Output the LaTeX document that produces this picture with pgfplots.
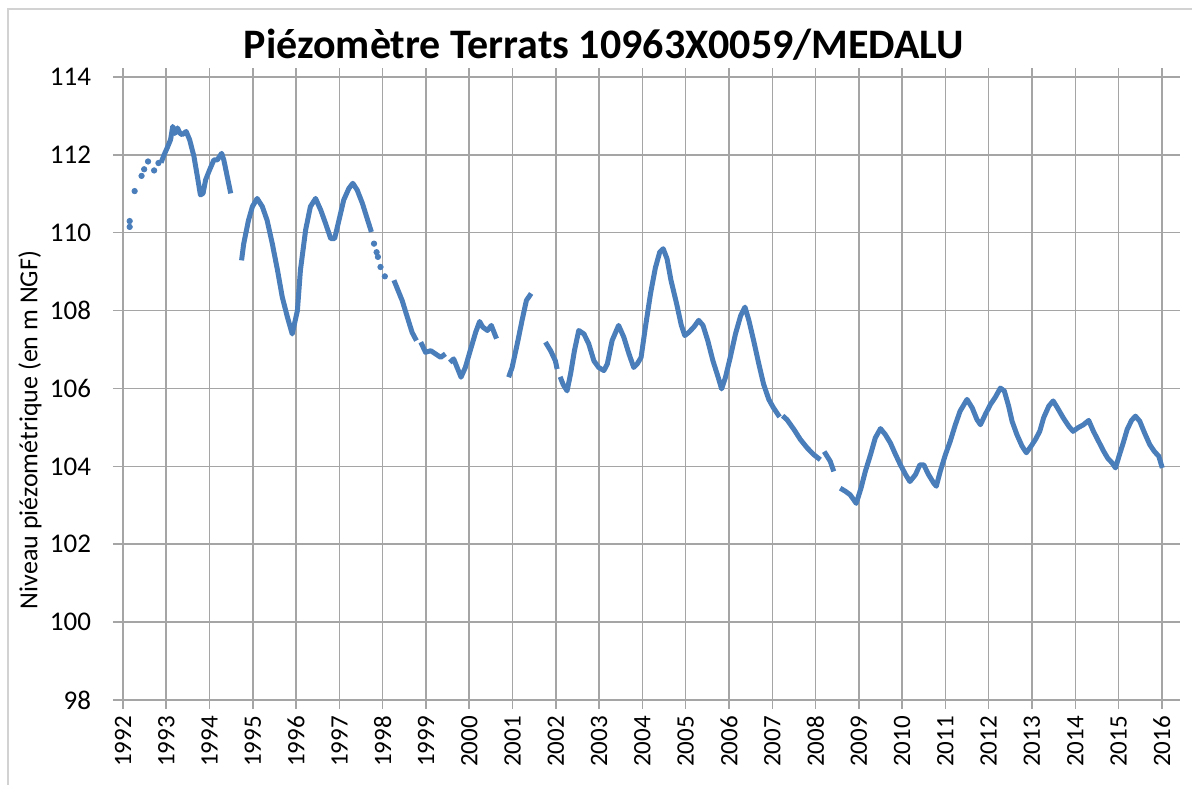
\documentclass[border=0pt]{standalone}
\usepackage{pgfplots}
\pgfplotsset{compat=1.18}
\usepackage{pgfplotstable}
\usepackage{fontspec}
\setmainfont{Carlito}
\definecolor{serie}{RGB}{74,126,187}
\definecolor{gridgray}{RGB}{165,165,165}
\definecolor{border}{RGB}{210,210,210}

\pgfplotstableread{
x y
1992.88 111.80
1992.95 112.00
1993.03 112.20
1993.10 112.39
1993.15 112.73
1993.20 112.55
1993.26 112.69
1993.32 112.55
1993.37 112.52
1993.46 112.60
1993.54 112.39
1993.64 111.96
1993.72 111.44
1993.79 110.97
1993.85 111.01
1993.91 111.36
1994.00 111.61
1994.10 111.87
1994.18 111.87
1994.28 112.04
1994.33 111.87
1994.41 111.44
1994.49 111.01
nan nan
1994.74 109.29
1994.79 109.72
1994.90 110.32
1994.99 110.67
1995.10 110.88
1995.22 110.67
1995.33 110.32
1995.45 109.72
1995.57 109.04
1995.68 108.35
1995.80 107.83
1995.91 107.40
1996.03 108.00
1996.10 109.04
1996.22 110.07
1996.33 110.67
1996.45 110.88
1996.57 110.58
1996.68 110.24
1996.80 109.85
1996.89 109.85
1996.99 110.32
1997.10 110.84
1997.22 111.14
1997.31 111.27
1997.41 111.10
1997.53 110.76
1997.64 110.37
1997.74 110.02
nan nan
1998.26 108.78
1998.34 108.56
1998.45 108.26
1998.57 107.83
1998.68 107.44
1998.78 107.23
nan nan
1998.88 107.19
1998.99 106.93
1999.11 106.97
1999.22 106.89
1999.34 106.80
1999.45 106.89
nan nan
1999.55 106.67
1999.64 106.76
1999.72 106.54
1999.81 106.29
1999.91 106.54
2000.03 107.00
2000.15 107.45
2000.24 107.72
2000.31 107.58
2000.42 107.49
2000.51 107.62
2000.63 107.28
nan nan
2000.91 106.29
2000.99 106.54
2001.11 107.15
2001.22 107.75
2001.32 108.26
2001.43 108.44
nan nan
2001.76 107.19
2001.88 106.97
2001.99 106.71
2002.03 106.50
nan nan
2002.10 106.30
2002.17 106.10
2002.26 105.94
2002.34 106.37
2002.43 106.97
2002.53 107.49
2002.65 107.40
2002.76 107.15
2002.88 106.71
2002.99 106.54
2003.11 106.46
2003.19 106.63
2003.30 107.23
2003.45 107.62
2003.57 107.32
2003.69 106.89
2003.80 106.54
2003.88 106.63
2003.97 106.80
2004.07 107.58
2004.19 108.45
2004.30 109.10
2004.40 109.50
2004.48 109.59
2004.57 109.33
2004.66 108.78
2004.79 108.18
2004.90 107.62
2004.98 107.36
2005.07 107.44
2005.19 107.58
2005.30 107.75
2005.40 107.62
2005.51 107.23
2005.63 106.71
2005.75 106.29
2005.83 105.99
2005.92 106.29
2006.03 106.80
2006.15 107.40
2006.27 107.87
2006.37 108.09
2006.46 107.75
2006.57 107.23
2006.69 106.63
2006.80 106.11
2006.92 105.72
2007.03 105.50
2007.17 105.27
nan nan
2007.24 105.30
2007.34 105.20
2007.50 104.95
2007.65 104.69
2007.81 104.47
2007.96 104.30
2008.11 104.17
nan nan
2008.20 104.38
2008.34 104.13
2008.42 103.87
nan nan
2008.57 103.44
2008.69 103.36
2008.80 103.27
2008.94 103.05
2009.05 103.44
2009.15 103.87
2009.27 104.30
2009.38 104.73
2009.50 104.97
2009.61 104.82
2009.73 104.60
2009.85 104.30
2009.96 104.04
2010.08 103.79
2010.18 103.61
2010.31 103.79
2010.41 104.04
2010.50 104.04
2010.61 103.79
2010.73 103.57
2010.79 103.49
2010.88 103.87
2011.00 104.30
2011.11 104.64
2011.23 105.07
2011.34 105.42
2011.50 105.72
2011.62 105.50
2011.73 105.20
2011.81 105.07
2011.92 105.33
2012.04 105.59
2012.15 105.77
2012.27 106.01
2012.36 105.94
2012.46 105.55
2012.54 105.16
2012.65 104.82
2012.77 104.52
2012.87 104.35
2012.98 104.52
2013.08 104.69
2013.18 104.90
2013.27 105.25
2013.39 105.55
2013.49 105.68
2013.59 105.50
2013.72 105.25
2013.85 105.03
2013.95 104.90
2014.06 104.99
2014.19 105.07
2014.31 105.18
2014.42 104.90
2014.54 104.64
2014.66 104.38
2014.75 104.21
2014.85 104.09
2014.93 103.96
2015.01 104.26
2015.11 104.61
2015.20 104.95
2015.30 105.18
2015.39 105.29
2015.49 105.16
2015.60 104.86
2015.72 104.56
2015.83 104.38
2015.93 104.26
2016.01 103.96
}\serie

\pgfplotstableread{
x y
1992.155 110.15
1992.155 110.30
1992.27 111.07
1992.43 111.46
1992.49 111.63
1992.58 111.83
1992.72 111.60
1992.82 111.79
1997.80 109.72
1997.86 109.50
1997.89 109.38
1997.95 109.12
1998.05 108.88
}\points

\begin{document}
\begin{tikzpicture}
\path[use as bounding box] (-56.5pt,-42.5pt) rectangle (539.5pt,350pt);
\draw[border, line width=0.6pt] (-52.5pt,-60pt) -- (-52.5pt,345.5pt) -- (560pt,345.5pt);
\begin{axis}[
  at={(0,0)}, anchor=south west,
  scale only axis,
  width=533.5pt, height=311.5pt,
  xmin=1991.77, xmax=2016.42,
  ymin=98, ymax=114,
  xtick={1992,1993,...,2016},
  ytick={98,100,...,114},
  grid=major,
  grid style={gridgray, line width=0.75pt},
  axis line style={draw=none},
  tick align=outside,
  major tick length=4.5pt,
  xtick style={gridgray, line width=0.75pt},
  ytick style={draw=none},
  /pgf/number format/1000 sep={},
  /pgf/number format/assume math mode=true,
  tick label style={font=\fontsize{12.5}{14}\selectfont, black},
  yticklabel style={font=\fontsize{13.5}{15}\selectfont, xshift=-3pt},
  xticklabel style={rotate=90, anchor=east, xshift=0pt},
  clip=false,
]
\addplot[serie, line width=2.5pt, line join=round, unbounded coords=jump] table[x=x, y=y] {\serie};
\addplot[only marks, mark=*, mark size=1.35pt, serie] table[x=x, y=y] {\points};
\end{axis}
\node[font=\fontsize{21}{24}\bfseries\selectfont] at (245.5pt,327.5pt) {Piézomètre Terrats 10963X0059/MEDALU};
\node[rotate=90, font=\fontsize{13}{15}\selectfont] at (-41.5pt,135pt) {Niveau piézométrique (en m NGF)};
\end{tikzpicture}
\end{document}
